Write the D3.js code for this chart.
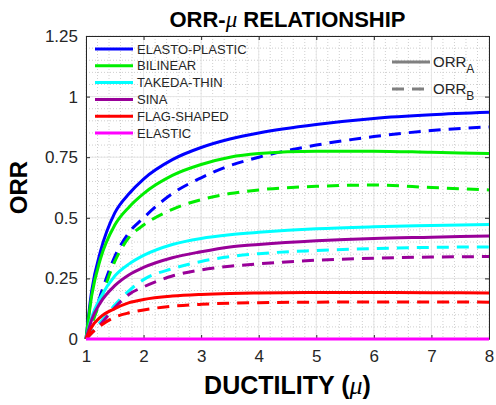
<!DOCTYPE html>
<html>
<head>
<meta charset="utf-8">
<script src="https://cdn.jsdelivr.net/npm/d3@7/dist/d3.min.js"></script>
<style>
  body { margin: 0; background: #fff; }
  svg text { font-family: "Liberation Sans", Arial, sans-serif; fill: #262626; }
</style>
</head>
<body>
<script>
// ductility values where the curves were read
const mu = [1, 1.1, 1.25, 1.5, 1.75, 2, 2.5, 3, 3.5, 4, 5, 6, 7, 8];

// ORR_A (solid) and ORR_B (dashed) per hysteresis model
const elastoPlasticA = [0, 0.2, 0.36, 0.52, 0.60, 0.66, 0.74, 0.79, 0.825, 0.85, 0.885, 0.91, 0.925, 0.935];
const elastoPlasticB = [0, 0.07, 0.18, 0.34, 0.44, 0.50, 0.60, 0.665, 0.715, 0.75, 0.80, 0.835, 0.86, 0.875];
const bilinearA = [0, 0.18, 0.33, 0.47, 0.545, 0.60, 0.675, 0.72, 0.75, 0.765, 0.775, 0.775, 0.77, 0.765];
const bilinearB = [0, 0.06, 0.16, 0.32, 0.42, 0.47, 0.535, 0.575, 0.60, 0.615, 0.63, 0.635, 0.625, 0.615];
const takedaA = [0, 0.09, 0.17, 0.26, 0.31, 0.345, 0.39, 0.415, 0.43, 0.44, 0.455, 0.463, 0.468, 0.472];
const takedaB = [0, 0.03, 0.07, 0.14, 0.20, 0.245, 0.29, 0.32, 0.34, 0.352, 0.365, 0.373, 0.378, 0.38];
const sinaA = [0, 0.08, 0.15, 0.22, 0.265, 0.295, 0.335, 0.36, 0.38, 0.39, 0.405, 0.415, 0.42, 0.425];
const sinaB = [0, 0.025, 0.06, 0.13, 0.185, 0.215, 0.26, 0.285, 0.30, 0.31, 0.325, 0.333, 0.338, 0.34];
const flagA = [0, 0.05, 0.09, 0.125, 0.15, 0.163, 0.177, 0.184, 0.188, 0.19, 0.192, 0.192, 0.191, 0.19];
const flagB = [0, 0.025, 0.055, 0.09, 0.108, 0.12, 0.135, 0.143, 0.148, 0.15, 0.152, 0.153, 0.153, 0.152];
const elasticA = [0, 0, 0, 0, 0, 0, 0, 0, 0, 0, 0, 0, 0, 0];

const models = ["ELASTO-PLASTIC", "BILINEAR", "TAKEDA-THIN", "SINA", "FLAG-SHAPED", "ELASTIC"];
const colors = ["#0000ff", "#00ee00", "#00ffff", "#990099", "#ff0000", "#ff00ff"];
const seriesA = [elastoPlasticA, bilinearA, takedaA, sinaA, flagA, elasticA];
const seriesB = [elastoPlasticB, bilinearB, takedaB, sinaB, flagB, null];

const xTicks = [1, 2, 3, 4, 5, 6, 7, 8];
const yTicks = [0, 0.25, 0.5, 0.75, 1, 1.25];
const yTickLabels = ["0", "0.25", "0.5", "0.75", "1", "1.25"];

const W = 496, H = 405,
      mLeft = 86, mRight = 489, mTop = 36, mBottom = 339,
      dash = "12,8";

const svg = d3.select("body").append("svg")
  .attr("width", W).attr("height", H);

const x = d3.scaleLinear([1, 8], [mLeft, mRight]);
const y = d3.scaleLinear([0, 1.25], [mBottom, mTop]);

// grid: dotted minor, light solid major
const grid = svg.append("g");
grid.selectAll("line.mx").data(d3.range(1, 8.001, 0.2)).join("line")
  .attr("x1", d => x(d)).attr("x2", d => x(d)).attr("y1", mTop).attr("y2", mBottom)
  .attr("stroke", "#cfcfcf").attr("stroke-dasharray", "1,2");
grid.selectAll("line.my").data(d3.range(0, 1.2501, 0.05)).join("line")
  .attr("y1", d => y(d)).attr("y2", d => y(d)).attr("x1", mLeft).attr("x2", mRight)
  .attr("stroke", "#cfcfcf").attr("stroke-dasharray", "1,2");
grid.selectAll("line.gx").data(xTicks).join("line")
  .attr("x1", d => x(d)).attr("x2", d => x(d)).attr("y1", mTop).attr("y2", mBottom)
  .attr("stroke", "#e6e6e6");
grid.selectAll("line.gy").data(yTicks).join("line")
  .attr("y1", d => y(d)).attr("y2", d => y(d)).attr("x1", mLeft).attr("x2", mRight)
  .attr("stroke", "#e6e6e6");

// axes box with inward ticks
const axCol = "#262626";
const xb = d3.axisBottom(x).tickValues(xTicks).tickSizeInner(-4).tickSizeOuter(0).tickPadding(11)
  .tickFormat(d3.format("d"));
const yl = d3.axisLeft(y).tickValues(yTicks).tickSizeInner(-4).tickSizeOuter(0).tickPadding(8)
  .tickFormat((d, i) => yTickLabels[i]);
const xt = d3.axisTop(x).tickValues(xTicks).tickSizeInner(-4).tickSizeOuter(0).tickFormat("");
const yr = d3.axisRight(y).tickValues(yTicks).tickSizeInner(-4).tickSizeOuter(0).tickFormat("");

function styleAxis(sel) {
  sel.selectAll("path, line").attr("stroke", axCol);
  sel.selectAll("text").attr("fill", axCol).style("font-size", "17px")
    .style("font-family", "Liberation Sans, Arial, sans-serif");
}
svg.append("g").attr("transform", `translate(0,${mBottom})`).call(xb).call(styleAxis);
svg.append("g").attr("transform", `translate(${mLeft},0)`).call(yl).call(styleAxis);
svg.append("g").attr("transform", `translate(0,${mTop})`).call(xt).call(styleAxis);
svg.append("g").attr("transform", `translate(${mRight},0)`).call(yr).call(styleAxis);

// curves, on top of the axes so the elastic line covers the bottom edge
const line = d3.line()
  .x((d, i) => x(mu[i]))
  .y(d => y(d))
  .curve(d3.curveMonotoneX);

const g = svg.append("g");
seriesB.forEach((s, k) => {
  if (!s) return;
  g.append("path").attr("d", line(s)).attr("fill", "none")
    .attr("stroke", colors[k]).attr("stroke-width", 3)
    .attr("stroke-dasharray", dash);
});
seriesA.forEach((s, k) => {
  g.append("path").attr("d", line(s)).attr("fill", "none")
    .attr("stroke", colors[k]).attr("stroke-width", 3);
});

// title and axis labels
const title = svg.append("text").attr("x", (mLeft + mRight) / 2).attr("y", 27)
  .attr("text-anchor", "middle").style("font-size", "22px").style("font-weight", "bold")
  .style("fill", "#000");
title.append("tspan").text("ORR-");
title.append("tspan").text("μ").style("font-family", "Liberation Serif, serif")
  .style("font-style", "italic").style("font-weight", "normal").style("font-size", "23px");
title.append("tspan").text(" RELATIONSHIP");

const xl = svg.append("text").attr("x", (mLeft + mRight) / 2).attr("y", 394)
  .attr("text-anchor", "middle").style("font-size", "25px").style("font-weight", "bold")
  .style("fill", "#000");
xl.append("tspan").text("DUCTILITY (");
xl.append("tspan").text("μ").style("font-family", "Liberation Serif, serif")
  .style("font-style", "italic").style("font-weight", "normal").style("font-size", "26px");
xl.append("tspan").text(")");

svg.append("text").attr("transform", `translate(27,${(mTop + mBottom) / 2}) rotate(-90)`)
  .attr("text-anchor", "middle").style("font-size", "24px").style("font-weight", "bold")
  .style("fill", "#000").text("ORR");

// model legend
const leg = svg.append("g");
models.forEach((m, k) => {
  const ly = 49 + k * 16.8;
  leg.append("line").attr("x1", 95).attr("x2", 133).attr("y1", ly).attr("y2", ly)
    .attr("stroke", colors[k]).attr("stroke-width", 3);
  leg.append("text").attr("x", 137).attr("y", ly + 4.5).style("font-size", "13px").text(m);
});

// line style legend
const styles = [{sub: "A", dash: null}, {sub: "B", dash: dash}];
styles.forEach((s, k) => {
  const ly = 62 + k * 27;
  leg.append("line").attr("x1", 392).attr("x2", 430).attr("y1", ly).attr("y2", ly)
    .attr("stroke", "#808080").attr("stroke-width", 3)
    .attr("stroke-dasharray", s.dash);
  const t = leg.append("text").attr("x", 433).attr("y", ly + 5).style("font-size", "15px");
  t.append("tspan").text("ORR");
  t.append("tspan").text(s.sub).attr("dy", 6).style("font-size", "12px");
});
</script>
</body>
</html>
